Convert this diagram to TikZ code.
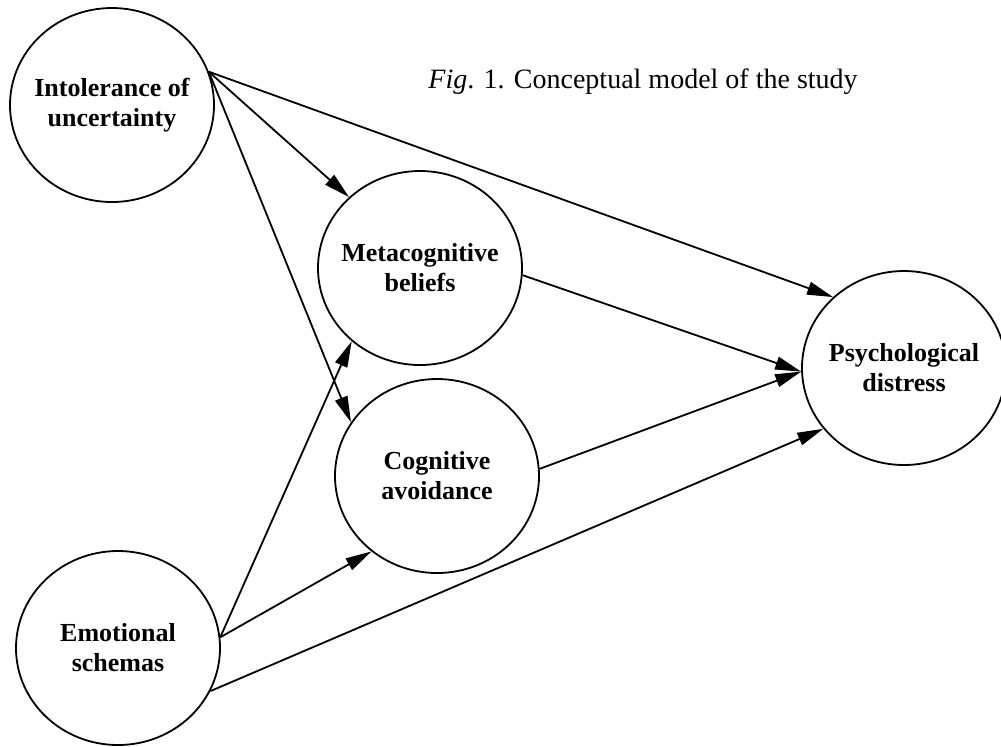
\documentclass[tikz,border=0pt]{standalone}
\usepackage{fontspec}
\setmainfont{Liberation Serif}
\usetikzlibrary{shapes.geometric,arrows.meta}

\begin{document}
\begin{tikzpicture}[x=0.5pt,y=-0.5pt,>={Triangle[length=13pt,width=6.5pt]},
  var/.style={draw,ellipse,line width=0.9pt,minimum width=102pt,minimum height=97pt,inner sep=0pt},
  lbl/.style={align=center,font=\bfseries\fontsize{13}{15}\selectfont},
  effect/.style={->,line width=0.9pt}]
\useasboundingbox (0,0) rectangle (1001,746);
% latent variables
\node[var,label={[lbl]center:Intolerance of\\uncertainty}] (iu) at (112,105) {};
\node[var,label={[lbl]center:Metacognitive\\beliefs}] (mb) at (420,268) {};
\node[var,label={[lbl]center:Cognitive\\avoidance}] (ca) at (437,476) {};
\node[var,label={[lbl]center:Psychological\\distress}] (pd) at (904,368) {};
\node[var,label={[lbl]center:Emotional\\schemas}] (es) at (118,648) {};
\node[anchor=base west,inner sep=0pt,font=\fontsize{14}{17}\selectfont] (cap) at (428,88) {\textit{Fig}. 1. Conceptual model of the study};
% paths
\draw[effect] (iu.19) -- (mb.135);
\draw[effect] (iu.19) -- (ca.148);
\draw[effect] (iu.19) -- (pd.135);
\draw[effect] (es.6) -- (mb.227);
\draw[effect] (es.6) -- (ca.229);
\draw[effect] (es.335) -- (pd.217);
\draw[effect] (mb.356) -- (pd.182);
\draw[effect] (ca.4) -- (pd.182);
\end{tikzpicture}
\end{document}
